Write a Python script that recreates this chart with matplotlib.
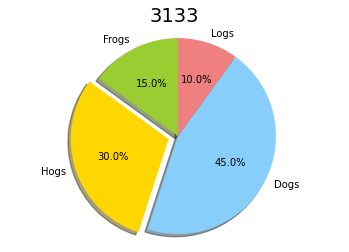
import matplotlib
matplotlib.use("Agg")
import matplotlib.pyplot as plt

# Slice labels and sizes
labels = ["Frogs", "Hogs", "Dogs", "Logs"]
sizes = [15, 30, 45, 10]
colors = ["yellowgreen", "gold", "lightskyblue", "lightcoral"]
explode = [0, 0.1, 0, 0]

fig = plt.figure(figsize=(3.49, 2.52), dpi=100)

# square axes placed so the pie sits where the reference has it
lim = 1.2
ax = fig.add_axes([0.173, -0.0064, 0.674, 0.933])

ax.pie(
    sizes,
    explode=explode,
    labels=labels,
    colors=colors,
    autopct="%1.1f%%",
    shadow=True,
    startangle=90,
    textprops={"fontsize": 7.2},
)
ax.set_xlim(-lim, lim)
ax.set_ylim(-lim, lim)
ax.set_aspect("equal")
ax.axis("off")

fig.text(0.5, 1 - 22 / 252, "3133", fontsize=14, ha="center", va="baseline")

fig.savefig("out.png", dpi=100)
